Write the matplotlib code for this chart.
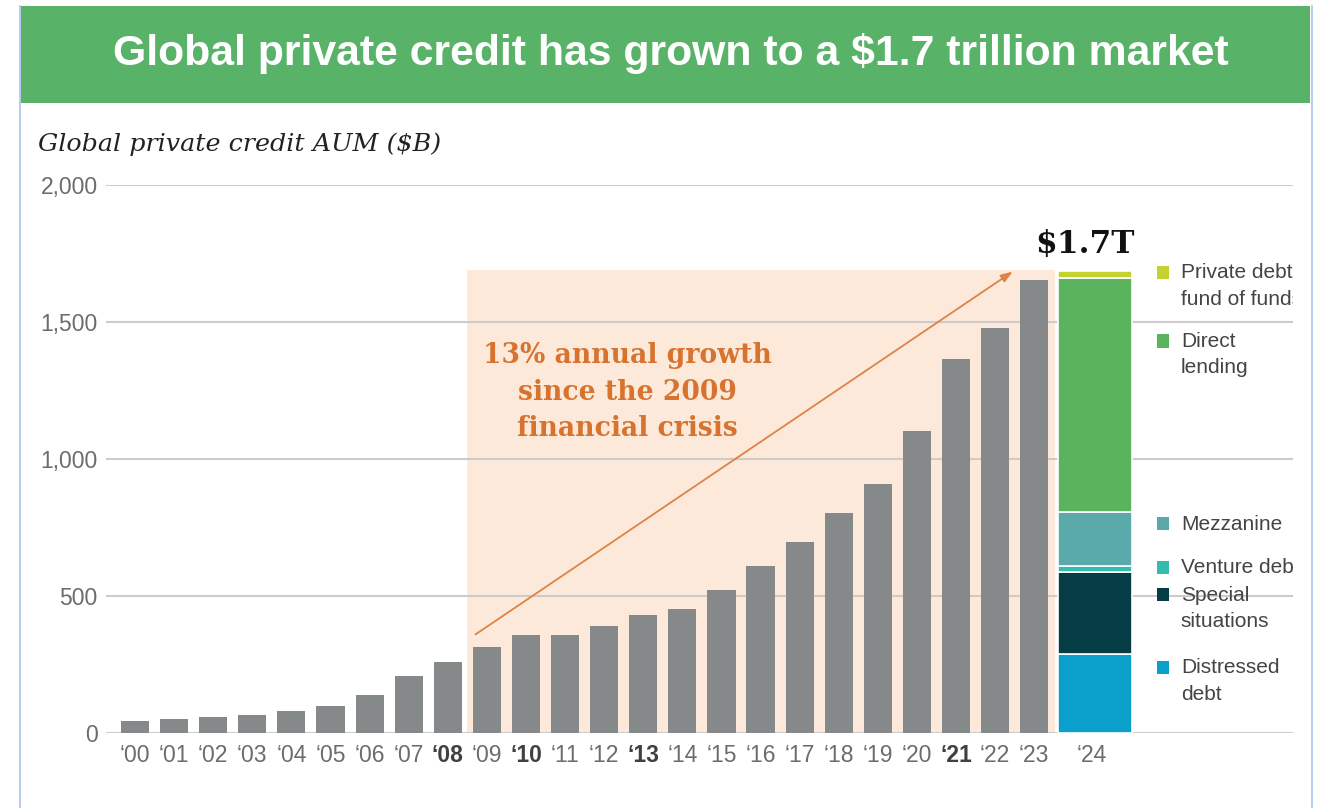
import matplotlib.pyplot as plt
from matplotlib.patches import Rectangle
from matplotlib.lines import Line2D

# AUM by year, $B
years = ["00", "01", "02", "03", "04", "05", "06", "07", "08", "09", "10", "11",
         "12", "13", "14", "15", "16", "17", "18", "19", "20", "21", "22", "23"]
aum = [45, 51, 60, 68, 83, 99, 139, 208, 260, 315, 357, 360,
       393, 433, 455, 522, 612, 696, 802, 908, 1102, 1367, 1479, 1653]
bold_years = ["08", "10", "13", "21"]

# 2024 breakdown by strategy, bottom to top
strategies = ["Distressed\ndebt", "Special\nsituations", "Venture debt",
              "Mezzanine", "Direct\nlending", "Private debt\nfund of funds"]
strategy_aum = [288, 302, 20, 198, 853, 24]
strategy_colors = ["#0aa0cb", "#063c45", "#33bcae", "#5aa9ab", "#5ab45e", "#c4d22f"]
legend_y = [273, 539, 638, 798, 1465, 1714]

W, H = 1323, 808
fig = plt.figure(figsize=(W / 100, H / 100), dpi=100)

# green header + thin blue frame
fig.add_artist(Rectangle((21 / W, 1 - 103 / H), (1310 - 21) / W, 97 / H,
                         transform=fig.transFigure, color="#58b368", lw=0))
fig.text(671 / W, 1 - 54 / H, "Global private credit has grown to a $1.7 trillion market",
         ha="center", va="center", color="white", fontsize=30.8, fontweight="bold",
         family="Liberation Sans")
for xx in (20, 1312):
    fig.add_artist(Line2D([xx / W, xx / W], [0, 1 - 6 / H], color="#a8c2ee", lw=1.2,
                          transform=fig.transFigure))

ax = fig.add_axes([106 / W, 1 - 733.3 / H, (1293 - 106) / W, (733.3 - 185) / H])
ax.set_xlim(-0.742, 29.62)
ax.set_ylim(0, 2000)

x = list(range(len(years)))
ax.bar(x, aum, width=0.72, color="#85898a", zorder=2)

# shaded growth period
ax.add_patch(Rectangle((8.5, 0), 15.02, 1690, color="#fde9d9", lw=0, zorder=0.2))

# 2024 stacked bar
x24 = 24.56
bottom = 0
for val, col in zip(strategy_aum, strategy_colors):
    ax.bar(x24, val, bottom=bottom, width=1.89, color=col, edgecolor="white",
           linewidth=1.2, zorder=2)
    bottom += val

ax.text(x24 - 0.25, 1728, "$1.7T", ha="center", va="bottom", fontsize=22.5,
        fontweight="bold", family="DejaVu Serif", color="#111111")

# legend next to the stacked bar, clipped at the plot edge
for name, col, ly in zip(strategies, strategy_colors, legend_y):
    ax.add_patch(Rectangle((26.13, ly - 58), 0.33, 48, color=col, lw=0,
                           clip_on=False, zorder=3))
    ax.text(26.75, ly, name, ha="left", va="top", fontsize=15, color="#444444",
            family="Liberation Sans", linespacing=1.5, clip_on=True)

ax.annotate("", xy=(22.51, 1690), xytext=(8.65, 355),
            arrowprops=dict(arrowstyle="-|>,head_length=0.7,head_width=0.25",
                            color="#dd8347", lw=1.3), zorder=3)
ax.text(12.59, 1427, "13% annual growth\nsince the 2009\nfinancial crisis",
        ha="center", va="top", fontsize=19.2, fontweight="bold",
        family="DejaVu Serif", color="#d8732f", linespacing=1.45, zorder=3)

ax.text(-2.48, 2125, "Global private credit AUM ($B)", fontsize=18.3, style="italic",
        family="DejaVu Serif", color="#222222", ha="left", va="baseline")

ax.set_yticks([0, 500, 1000, 1500, 2000])
ax.set_yticklabels([f"{v:,}" for v in [0, 500, 1000, 1500, 2000]])
ax.set_xticks(x + [x24 - 0.08])
ax.set_xticklabels(["\u2018" + y for y in years] + ["\u201824"])
ax.tick_params(length=0, labelsize=16.5, labelcolor="#6c6c6c")
ax.tick_params(axis="x", pad=8)
ax.tick_params(axis="y", pad=6)
for lab in ax.get_xticklabels() + ax.get_yticklabels():
    lab.set_family("Liberation Sans")
for lab in ax.get_xticklabels():
    if lab.get_text()[1:] in bold_years:
        lab.set_fontweight("bold")
        lab.set_color("#404040")

ax.grid(axis="y", color="#cccccc", lw=1.5, zorder=1)
ax.set_axisbelow(True)
for s in ax.spines.values():
    s.set_visible(False)

fig.savefig("out.png", dpi=100, facecolor="white")
